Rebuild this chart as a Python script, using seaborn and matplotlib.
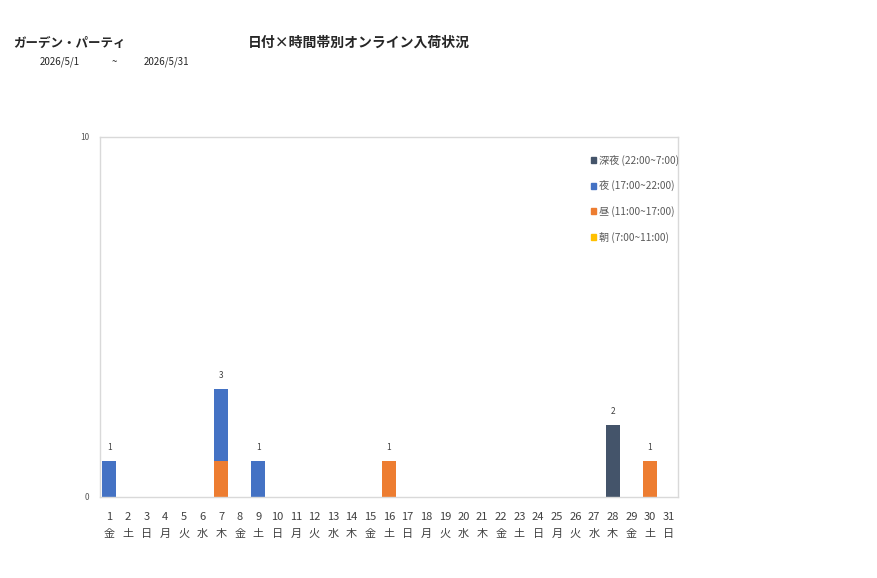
import matplotlib
matplotlib.use("Agg")
import matplotlib.pyplot as plt
import pandas as pd
import seaborn as sns

# data
days = list(range(1, 32))
weekdays = ["金", "土", "日", "月", "火", "水", "木", "金", "土", "日", "月", "火", "水", "木",
            "金", "土", "日", "月", "火", "水", "木", "金", "土", "日", "月", "火", "水", "木",
            "金", "土", "日"]
slots = ["深夜 (22:00~7:00)", "夜 (17:00~22:00)", "昼 (11:00~17:00)", "朝 (7:00~11:00)"]
shinya = [0] * 27 + [2, 0, 0, 0]
yoru = [1, 0, 0, 0, 0, 0, 2, 0, 1] + [0] * 22
hiru = [0] * 6 + [1] + [0] * 8 + [1] + [0] * 13 + [1, 0]
asa = [0] * 31
colors = ["#44546A", "#4472C4", "#ED7D31", "#FFC000"]

sns.set_style("white")
plt.rcParams["font.family"] = ["Noto Sans CJK JP", "DejaVu Sans"]

rows = []
for slot, vals in zip(slots, [shinya, yoru, hiru, asa]):
    for d, v in zip(days, vals):
        rows.append({"day": d, "slot": slot, "count": v})
df = pd.DataFrame(rows)

fig = plt.figure(figsize=(8.77, 5.78), dpi=100)
ax = fig.add_axes([100 / 877, 1 - 497 / 578, 578 / 877, 360 / 578])

sns.histplot(data=df, x="day", weights="count", hue="slot", hue_order=slots,
             palette=colors, multiple="stack", discrete=True, shrink=0.75,
             binrange=(1, 31), linewidth=0, alpha=1, ax=ax, legend=False)

# totals above the bars
totals = [a + b + c + d for a, b, c, d in zip(shinya, yoru, hiru, asa)]
for d, t in zip(days, totals):
    if t > 0:
        ax.text(d, t + 0.25, str(t), ha="center", va="bottom", fontsize=6, color="#404040")

ax.set_xlim(0.5, 31.5)
ax.set_ylim(0, 10)
ax.set_xticks(days)
ax.set_xticklabels([f"{d}\n{w}" for d, w in zip(days, weekdays)], fontsize=8,
                   color="#404040", linespacing=1.8)
ax.set_yticks([0, 10])
ax.set_yticklabels(["0", "10"], fontsize=6, color="#595959")
ax.tick_params(axis="x", length=0, pad=11)
ax.tick_params(axis="y", length=0, pad=8)
ax.set_xlabel("")
ax.set_ylabel("")
for s in ax.spines.values():
    s.set_color("#D9D9D9")
    s.set_linewidth(1)

handles = [plt.Rectangle((0, 0), 1, 1, color=c) for c in colors]
ax.legend(handles, slots, loc="upper right", bbox_to_anchor=(1.017, 0.977), frameon=False,
          fontsize=7.3, handlelength=0.5, handleheight=0.5, handletextpad=0.3,
          labelspacing=1.45, labelcolor="#595959")

fig.text(13 / 877, 1 - 43 / 578, "ガーデン・パーティ", fontsize=9, fontweight="bold",
         va="center", ha="left")
fig.text(359 / 877, 1 - 43 / 578, "日付×時間帯別オンライン入荷状況", fontsize=10,
         fontweight="bold", va="center", ha="center")
fig.text(40 / 877, 1 - 62 / 578, "2026/5/1", fontsize=7, va="center", ha="left")
fig.text(112 / 877, 1 - 62 / 578, "~", fontsize=7, va="center", ha="left")
fig.text(144 / 877, 1 - 62 / 578, "2026/5/31", fontsize=7, va="center", ha="left")

fig.savefig("out.png", dpi=100)
